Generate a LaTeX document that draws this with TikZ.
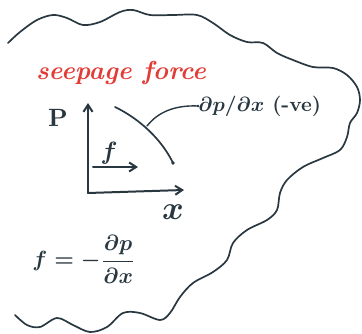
\documentclass[tikz,border=0pt]{standalone}
\usepackage{amsmath}
\usetikzlibrary{arrows.meta}
\definecolor{inkc}{RGB}{40,55,64}
\definecolor{redink}{RGB}{226,60,55}
\begin{document}
\begin{tikzpicture}[x=1pt,y=-1pt,line cap=round,line join=round,
  ink/.style={draw=inkc,line width=1.7pt},
  axis/.style={draw=inkc,line width=2pt,-{Straight Barb[length=7pt,width=9pt,line width=2pt]}},
  lbl/.style={text=inkc,inner sep=0pt,font=\boldmath\bfseries}]
\useasboundingbox (0,0) rectangle (362,334);
% wavy outline
\draw[ink] plot[smooth,tension=0.55] coordinates {(8,43) (20,32) (37,20) (53,15) (67,18) (83,25) (100,22) (120,12) (133,10) (150,15) (173,15) (197,15) (213,23) (230,35) (247,42) (263,43) (277,53) (293,60) (313,67) (333,68) (347,75) (357,87) (360,100) (357,113) (350,123) (347,137) (340,150) (323,158) (303,167) (287,180) (280,193) (277,210) (267,220) (247,230) (233,243) (227,260) (213,272) (193,283) (180,297) (170,313) (160,320) (140,313) (123,313) (107,327) (90,332) (73,325) (57,318) (40,327) (27,325) (15,315)};
% title
\node[text=redink,inner sep=0pt,anchor=base,scale=2.6,font=\bfseries\itshape] (title) at (121,80) {seepage force};
% axes
\coordinate (O) at (88,193);
\coordinate (Pt) at (88,103);
\coordinate (Xt) at (184,190);
\draw[axis] (O) -- (Pt);
\draw[axis] (O) -- (Xt);
\node[lbl,scale=2.5] (P) at (58,118) {P};
\node[lbl,scale=3.3] (X) at (173,212) {$x$};
% curve
\coordinate (c1) at (115,107);
\coordinate (c2) at (173,163);
\draw[ink] (c1) .. controls (140,119) and (162,140) .. (c2);
\fill[inkc] (c2) circle (1.8pt);
% leader and label
\coordinate (lp) at (147,126);
\node[lbl,anchor=west,scale=2.05] (lab) at (198,106) {$\partial p/\partial x$ (-ve)};
\draw[inkc,line width=1.4pt] (lp) .. controls (158,112) and (175,105) .. (lab.west);
\fill[inkc] (lab.west) circle (1.4pt);
% f arrow
\node[lbl,scale=2.5] (f) at (109,153) {$f$};
\coordinate (fa) at (93,167);
\coordinate (fb) at (138,167);
\draw[axis] (fa) -- (fb);
% formula
\node[lbl,scale=2.2] (eq) at (84,259) {$f=-\dfrac{\partial p}{\partial x}$};
\end{tikzpicture}
\end{document}
